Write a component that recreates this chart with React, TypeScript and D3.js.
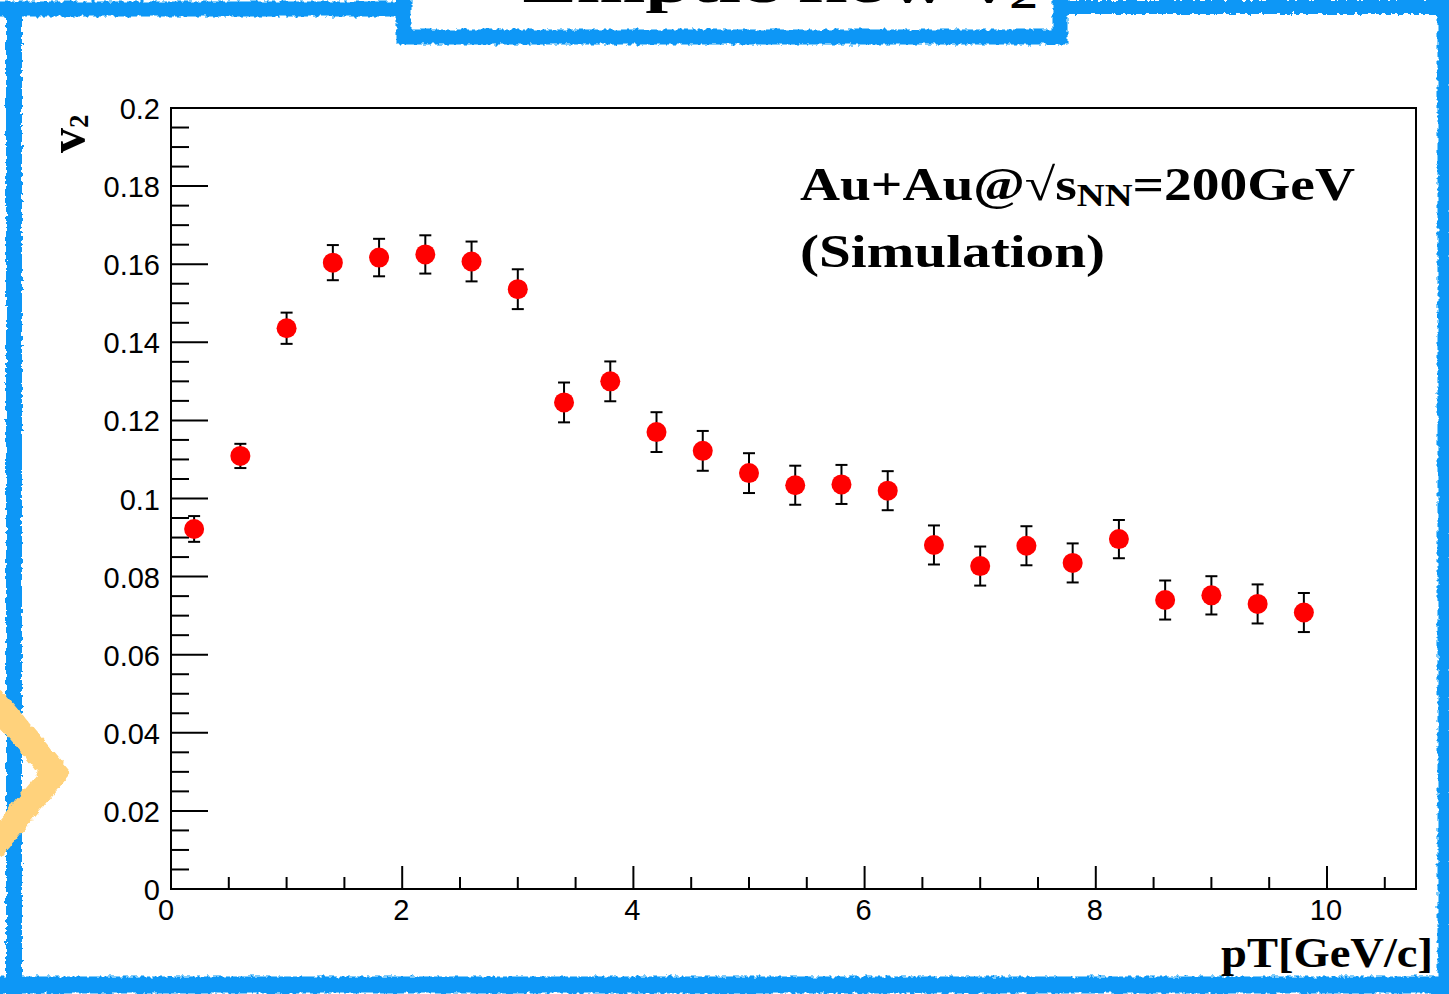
import React from 'react';
import * as d3 from 'd3';

// pT bin centres [GeV/c]
const ptCenters = [0.2, 0.6, 1.0, 1.4, 1.8, 2.2, 2.6, 3.0, 3.4, 3.8, 4.2, 4.6, 5.0, 5.4, 5.8, 6.2, 6.6, 7.0, 7.4, 7.8, 8.2, 8.6, 9.0, 9.4, 9.8];
// elliptic flow v2 per bin
const v2Values = [0.0922, 0.1109, 0.1436, 0.1604, 0.1617, 0.1625, 0.1607, 0.1536, 0.1246, 0.1300, 0.1170, 0.1122, 0.1065, 0.1034, 0.1036, 0.1020, 0.0881, 0.0827, 0.0879, 0.0835, 0.0896, 0.0740, 0.0752, 0.0730, 0.0708];
// statistical errors
const v2Errors = [0.0033, 0.0031, 0.0040, 0.0045, 0.0048, 0.0049, 0.0051, 0.0051, 0.0051, 0.0051, 0.0051, 0.0051, 0.0051, 0.0050, 0.0050, 0.0050, 0.0050, 0.0050, 0.0050, 0.0050, 0.0049, 0.0050, 0.0049, 0.0050, 0.0050];

const xTickLabels = ['0', '2', '4', '6', '8', '10'];
const yTickLabels = ['0', '0.02', '0.04', '0.06', '0.08', '0.1', '0.12', '0.14', '0.16', '0.18', '0.2'];

const W = 1449;
const H = 994;
const frame = { left: 171, right: 1416, top: 108, bottom: 889 };

const x = d3.scaleLinear().domain([0, 10.77]).range([frame.left, frame.right]);
const y = d3.scaleLinear().domain([0, 0.2]).range([frame.bottom, frame.top]);

const xMinor = d3.range(0, 10.77, 0.5);
const yMinor = d3.range(0, 0.2001, 0.005);

const BLUE = '#0a97f6';
const SANS = '"Liberation Sans", Arial, Helvetica, sans-serif';
const SERIF = '"Liberation Serif", "Times New Roman", serif';

export default function App() {
  return (
    <svg
      width={W}
      height={H}
      viewBox={`0 0 ${W} ${H}`}
      style={{ position: 'absolute', left: 0, top: 0, background: '#fff' }}
    >
      <defs>
        <filter id="rough" filterUnits="userSpaceOnUse" x={-20} y={-20} width={W + 40} height={H + 40}>
          <feTurbulence type="fractalNoise" baseFrequency="0.22" numOctaves={2} seed={4} result="noise" />
          <feDisplacementMap in="SourceGraphic" in2="noise" scale={6} xChannelSelector="R" yChannelSelector="G" />
        </filter>
        <filter id="roughSoft" filterUnits="userSpaceOnUse" x={-20} y={600} width={200} height={320}>
          <feTurbulence type="fractalNoise" baseFrequency="0.15" numOctaves={2} seed={9} result="noise" />
          <feDisplacementMap in="SourceGraphic" in2="noise" scale={6} xChannelSelector="R" yChannelSelector="G" />
        </filter>
      </defs>

      {/* slide title, mostly cut off at the top edge */}
      <text x={780} y={2} textAnchor="middle" fontFamily={SERIF} fontWeight="bold" fontSize={52} fill="#000" textLength={515} lengthAdjust="spacingAndGlyphs">
        Elliptic flow v<tspan fontSize={36} dy={6}>2</tspan>
      </text>

      {/* hand-drawn blue slide frame */}
      <g filter="url(#rough)" fill="none" stroke={BLUE} strokeLinecap="square">
        <path d="M14,10 L14,988" strokeWidth={16} />
        <path d="M6,9 L402,9" strokeWidth={15} />
        <path d="M404,-5 L404,37 L1060,37 L1060,-5" strokeWidth={15} />
        <path d="M1060,7 L1449,7" strokeWidth={14} />
        <path d="M1444,0 L1444,990" strokeWidth={13} />
        <path d="M0,985 L1449,985" strokeWidth={17} />
      </g>

      {/* orange chevron on the left edge */}
      <g filter="url(#roughSoft)">
        <polyline points="-8,698 55,773 -8,848" fill="none" stroke="#ffd27c" strokeWidth={25} strokeLinejoin="miter" />
      </g>

      {/* y-axis ticks */}
      {yMinor.map((v, i) => {
        const major = i % 4 === 0;
        return (
          <line key={`ym${i}`} x1={frame.left} x2={frame.left + (major ? 37 : 18)} y1={y(v)} y2={y(v)} stroke="#000" strokeWidth={2} />
        );
      })}
      {/* x-axis ticks */}
      {xMinor.map((v, i) => {
        const major = i % 4 === 0;
        return (
          <line key={`xm${i}`} x1={x(v)} x2={x(v)} y1={frame.bottom} y2={frame.bottom - (major ? 23 : 12)} stroke="#000" strokeWidth={2} />
        );
      })}

      {/* plot frame */}
      <rect x={frame.left} y={frame.top} width={frame.right - frame.left} height={frame.bottom - frame.top} fill="none" stroke="#000" strokeWidth={2} />

      {/* y tick labels */}
      {yTickLabels.map((t) => (
        <text key={`yl${t}`} x={frame.left - 11} y={y(+t) + 11} textAnchor="end" fontFamily={SANS} fontSize={29} fill="#000">
          {t}
        </text>
      ))}
      {/* x tick labels */}
      {xTickLabels.map((t) => (
        <text key={`xl${t}`} x={x(+t) - (t === '0' ? 5 : 1)} y={920} textAnchor="middle" fontFamily={SANS} fontSize={29} fill="#000">
          {t}
        </text>
      ))}

      {/* data: error bars and markers */}
      {ptCenters.map((pt, i) => {
        const cx = x(pt);
        const y0 = y(v2Values[i] - v2Errors[i]);
        const y1 = y(v2Values[i] + v2Errors[i]);
        return (
          <g key={`pt${i}`} stroke="#000" strokeWidth={2}>
            <line x1={cx} x2={cx} y1={y0} y2={y1} />
            <line x1={cx - 6} x2={cx + 6} y1={y0} y2={y0} />
            <line x1={cx - 6} x2={cx + 6} y1={y1} y2={y1} />
          </g>
        );
      })}
      {ptCenters.map((pt, i) => (
        <circle key={`mk${i}`} cx={x(pt)} cy={y(v2Values[i])} r={10} fill="#ff0000" />
      ))}

      {/* axis titles */}
      <text transform="translate(84,153) rotate(-90)" fontFamily={SERIF} fontWeight="bold" fontSize={50} fill="#000">
        v<tspan fontSize={27} dy={4}>2</tspan>
      </text>
      <text x={1433} y={967} textAnchor="end" fontFamily={SERIF} fontWeight="bold" fontSize={42} fill="#000" textLength={212} lengthAdjust="spacingAndGlyphs">
        pT[GeV/c]
      </text>

      {/* collision system annotation */}
      <text x={800} y={200} fontFamily={SERIF} fontWeight="bold" fontSize={46} fill="#000" textLength={555} lengthAdjust="spacingAndGlyphs">
        Au+Au@<tspan fontWeight="normal">√</tspan>s<tspan fontSize={32} dy={6}>NN</tspan><tspan dy={-6}>=200GeV</tspan>
      </text>
      <text x={800} y={267} fontFamily={SERIF} fontWeight="bold" fontSize={46} fill="#000" textLength={305} lengthAdjust="spacingAndGlyphs">
        (Simulation)
      </text>
    </svg>
  );
}
